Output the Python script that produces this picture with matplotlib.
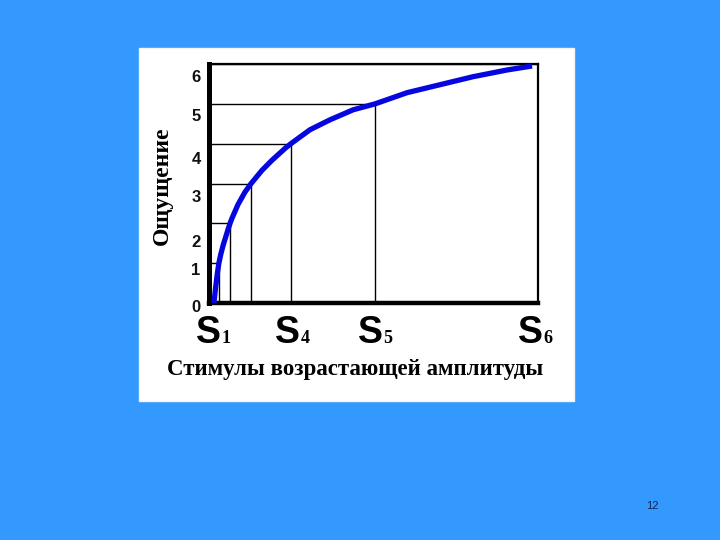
import matplotlib
matplotlib.use('Agg')
import matplotlib.pyplot as plt
from matplotlib.patches import Rectangle

# ---------------- data ----------------
curve_x = [1.5, 2.0, 2.5, 3.0, 3.6, 4.3, 5.8, 6.4, 7.0, 8.8, 10.9, 12.8, 16.1, 19.1,
           23.1, 24.9, 30.7, 36.8, 43.8, 50.5, 60.2, 70.2, 80.2, 90.6, 98.2]
curve_y = [0.0, 0.38, 0.72, 1.0, 1.23, 1.45, 1.85, 2.0, 2.13, 2.47, 2.78, 3.0, 3.33, 3.58,
           3.88, 4.0, 4.35, 4.6, 4.85, 5.0, 5.28, 5.48, 5.68, 5.85, 5.95]
stimulus_x = [3.0, 6.4, 12.8, 24.9, 50.5, 100.0]
sensation_levels = [1, 2, 3, 4, 5, 6]
y_tick_values = [0, 1, 2, 3, 4, 5, 6]
y_tick_labels = ['0', '1', '2', '3', '4', '5', '6']
s_label_index = [0, 3, 4, 5]
s_label_main = ['S', 'S', 'S', 'S']
s_label_sub = ['1', '4', '5', '6']
x_title = 'Стимулы возрастающей амплитуды'
y_title = 'Ощущение'
page_number = '12'

# ---------------- style ----------------
BG = '#3399ff'
CURVE = '#0606e0'
PX = 0.72  # points per pixel at dpi 100
ytick_dy_px = [5, 7, 19, 14, 16, 13, 13]
s_dx_px = [-10, -3, -5, -8]

fig = plt.figure(figsize=(7.2, 5.4), dpi=100, facecolor=BG)

# white panel
fig.patches.append(Rectangle((139 / 720, 1 - 401 / 540), 435 / 720, 353 / 540,
                             transform=fig.transFigure, facecolor='white',
                             edgecolor='#f4f4f0', linewidth=1.0, zorder=-5))

ax = fig.add_axes([209 / 720, 1 - 303 / 540, 329 / 720, 239 / 540])
ax.set_zorder(2)
ax.set_facecolor('white')
ax.set_xlim(0, 100)
ax.set_ylim(0, 6)
ax.set_xticks([])
ax.set_yticks([])

for side, lw in [('left', 3.6), ('bottom', 3.2), ('top', 1.6), ('right', 1.6)]:
    ax.spines[side].set_linewidth(lw)
    ax.spines[side].set_color('black')

# guide lines
for sx, lv in zip(stimulus_x, sensation_levels):
    ax.plot([0, sx], [lv, lv], color='black', lw=1.0, zorder=2)
    ax.plot([sx, sx], [0, lv], color='black', lw=1.0, zorder=2)

# curve
ax.plot(curve_x, curve_y, color=CURVE, lw=3.8, solid_capstyle='butt',
        solid_joinstyle='round', zorder=4, clip_on=False)

# y tick labels
for v, lab, dy in zip(y_tick_values, y_tick_labels, ytick_dy_px):
    ax.annotate(lab, xy=(0, v), xycoords=('axes fraction', 'data'),
                xytext=(-13 * PX, -dy * PX), textcoords='offset points',
                ha='center', va='center', fontsize=12, fontweight='bold',
                family='Liberation Sans', color='#111111', annotation_clip=False)

# S labels
for i, idx in enumerate(s_label_index):
    sx = stimulus_x[idx]
    dx = s_dx_px[i]
    ax.annotate(s_label_main[i], xy=(sx, 0), xycoords=('data', 'axes fraction'),
                xytext=(dx * PX, -40 * PX), textcoords='offset points',
                ha='center', va='baseline', fontsize=27, fontweight='bold',
                family='Liberation Sans', color='black', annotation_clip=False)
    ax.annotate(s_label_sub[i], xy=(sx, 0), xycoords=('data', 'axes fraction'),
                xytext=((dx + 13) * PX, -40 * PX), textcoords='offset points',
                ha='left', va='baseline', fontsize=13, fontweight='bold',
                family='Liberation Serif', color='black', annotation_clip=False)

# axis titles
fig.text(355 / 720, 1 - 369 / 540, x_title, ha='center', va='center',
         fontsize=16.5, fontweight='bold', family='Liberation Serif', color='black')
fig.text(162 / 720, 1 - 186 / 540, y_title, ha='center', va='center',
         rotation=90, fontsize=17, fontweight='bold', family='Liberation Serif',
         color='black')

# page number
fig.text(652 / 720, 1 - 506 / 540, page_number, ha='center', va='center',
         fontsize=8, color='#14235a', family='Liberation Sans')

fig.savefig('out.png', dpi=100, facecolor=BG)
